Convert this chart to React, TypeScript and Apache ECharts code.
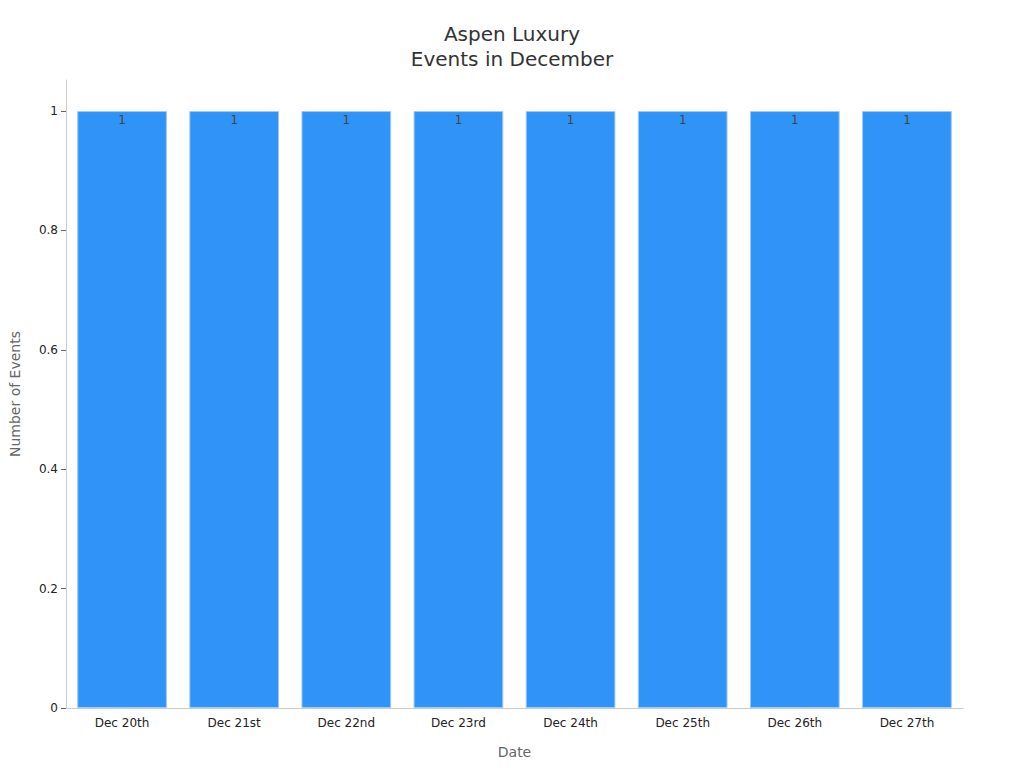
import React, { useEffect, useRef } from 'react';
import * as echarts from 'echarts';

const dates = ['Dec 20th', 'Dec 21st', 'Dec 22nd', 'Dec 23rd', 'Dec 24th', 'Dec 25th', 'Dec 26th', 'Dec 27th'];
const eventCounts = [1, 1, 1, 1, 1, 1, 1, 1];
const yTicks = [0, 0.2, 0.4, 0.6, 0.8, 1];

const App: React.FC = () => {
  const chartRef = useRef<HTMLDivElement>(null);

  useEffect(() => {
    if (!chartRef.current) return;
    document.body.style.margin = '0';
    const chart = echarts.init(chartRef.current, null, { renderer: 'svg' });

    chart.setOption({
      animation: false,
      textStyle: { fontFamily: 'DejaVu Sans' },
      title: {
        text: 'Aspen Luxury\nEvents in December',
        left: 'center',
        top: 16,
        textStyle: { fontSize: 20, fontWeight: 'normal', color: '#333', lineHeight: 25 },
      },
      grid: { left: 61, right: 61, top: 80, bottom: 60 },
      xAxis: {
        type: 'category',
        data: dates,
        name: 'Date',
        nameLocation: 'middle',
        nameGap: 37,
        nameTextStyle: { color: '#666', fontSize: 14 },
        axisLine: { lineStyle: { color: '#ccc' } },
        axisTick: { alignWithLabel: true, length: 4, lineStyle: { color: '#666' } },
        axisLabel: { color: '#222', fontSize: 12, margin: 9 },
      },
      yAxis: {
        type: 'value',
        min: 0,
        max: 1.052,
        name: 'Number of Events',
        nameLocation: 'middle',
        nameGap: 44,
        nameTextStyle: { color: '#666', fontSize: 14 },
        splitLine: { show: false },
        axisLine: { show: true, lineStyle: { color: '#ccc' } },
        axisTick: { show: true, length: 5, customValues: yTicks, lineStyle: { color: '#666' } },
        axisLabel: { color: '#222', fontSize: 12, customValues: yTicks, margin: 8 },
      },
      series: [
        {
          type: 'bar',
          data: eventCounts,
          barCategoryGap: '20%',
          itemStyle: { color: '#3093F8', borderColor: '#9CC9F5', borderWidth: 1 },
          label: {
            show: true,
            position: 'insideTop',
            color: '#444',
            fontSize: 12,
            offset: [0, -2],
          },
        },
      ],
    });

    return () => {
      chart.dispose();
    };
  }, []);

  return <div ref={chartRef} style={{ width: '1024px', height: '768px' }} />;
};

export default App;
